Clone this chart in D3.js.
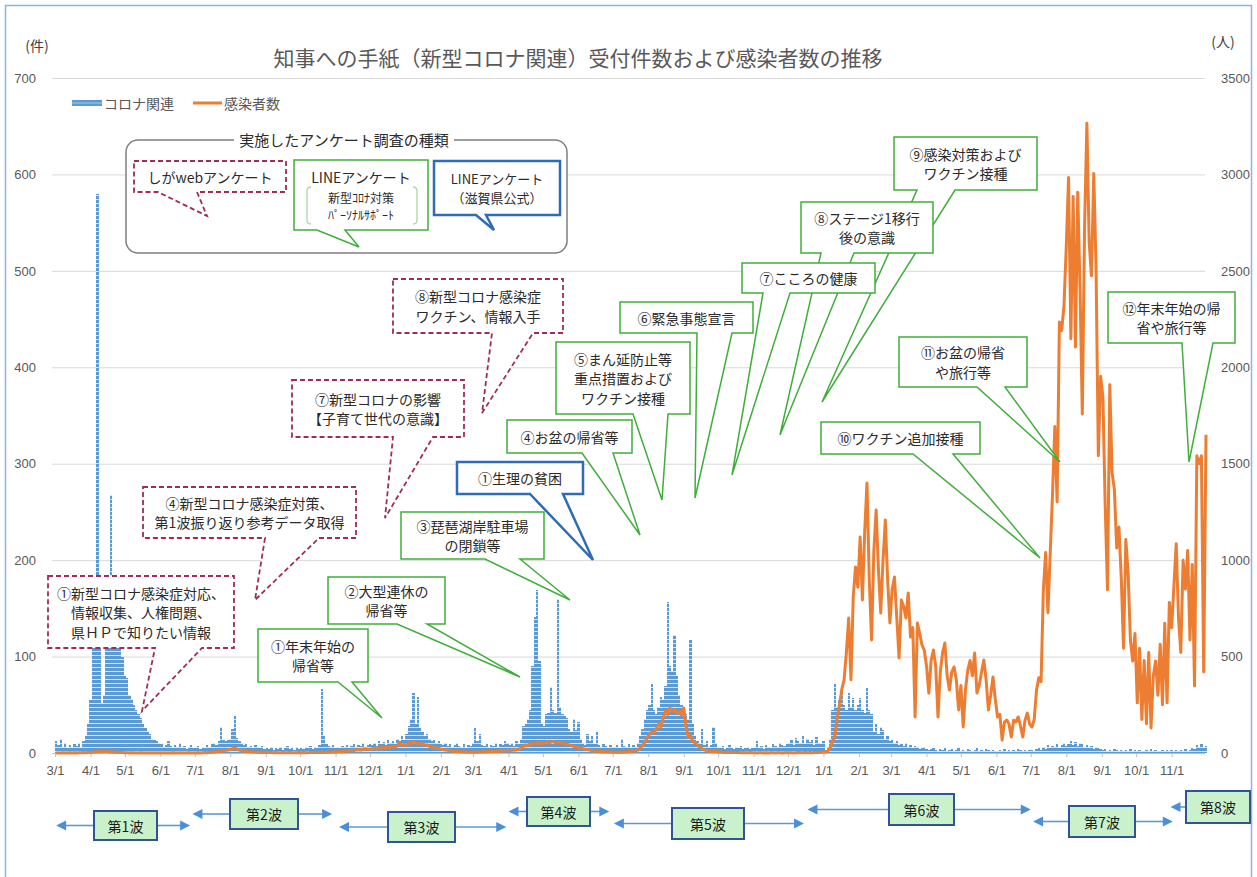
<!DOCTYPE html>
<html>
<head>
<meta charset="utf-8">
<script src="https://cdn.jsdelivr.net/npm/d3@7"></script>
<style>
  body { margin: 0; background: #fff; }
  svg { display: block; font-family: "Noto Sans CJK JP", "Noto Sans", sans-serif; }
</style>
</head>
<body>
<svg id="chart" width="1257" height="877"></svg>
<script>
/* 知事への手紙（新型コロナ関連）受付件数 + 感染者数, one value per 2 days from 2020-03-01 */

const START = new Date(2020, 2, 1);
const END = new Date(2022, 11, 1);
const STEP = 2;

/* ── コロナ関連 (件) ── */
const blue2020 = [
  12, 8, 15, 6, 10, 5, 8, 6, 9, 7, 10, 6, 12, 18, 30, 55,
  130, 150, 580, 160, 52, 60, 140, 150, 268, 150, 130, 120, 112, 100, 80,
  78, 60, 56, 50, 45, 40, 36, 30, 26, 22, 20, 15, 14, 12, 10,
  9, 6, 8, 12, 7, 5, 8, 6, 10, 5, 7, 4, 6, 8, 5,
  5, 7, 4, 6, 5, 8, 6, 9, 10, 8, 12, 27, 14, 12, 13, 15,
  25, 38, 16, 12, 10, 8, 9, 6, 7, 5, 8, 6, 5, 7, 4,
  5, 4, 6, 3, 5, 4, 6, 3, 5, 7, 4, 5, 3, 6, 4,
  5, 4, 6, 5, 7, 4, 6, 5, 8, 66, 18, 9, 7, 6, 8, 5,
  6, 5, 7, 6, 8, 5, 7, 9, 6, 8, 7, 10, 6, 8, 9,
  8, 10, 7, 12, 9, 11, 8, 14, 10, 12, 9, 15, 12, 18, 14
];
const blue2021 = [
  20, 28, 35, 62, 30, 58, 26, 22, 18, 20, 15, 12, 14, 10, 12, 9,
  8, 10, 7, 9, 6, 8, 10, 7, 6, 9, 5, 8, 7, 10,
  26, 12, 20, 8, 7, 9, 6, 8, 7, 10, 6, 9, 8, 12, 10,
  8, 10, 7, 12, 9, 15, 28, 30, 35, 45, 90, 141, 169, 95, 30,
  28, 40, 42, 68, 45, 42, 160, 48, 40, 38, 36, 25, 22, 35, 24, 32,
  15, 10, 8, 20, 12, 18, 9, 22, 8, 6, 9, 7, 5, 8, 6,
  6, 8, 5, 15, 7, 6, 9, 5, 8, 6, 10, 18, 25, 35, 45,
  50, 72, 45, 40, 48, 58, 55, 70, 157, 90, 85, 122, 80, 60, 50, 45,
  40, 35, 117, 30, 18, 12, 10, 25, 8, 12, 6, 8, 27, 10, 6,
  5, 7, 4, 6, 8, 5, 4, 6, 5, 7, 4, 5, 6, 4, 5,
  6, 12, 5, 7, 4, 8, 6, 5, 9, 7, 6, 10, 8, 7, 9,
  10, 14, 8, 16, 12, 10, 18, 9, 15, 11, 13, 8, 17, 10, 9, 12
];
const blue2022 = [
  3, 6, 15, 45, 72, 48, 55, 68, 50, 45, 62, 48, 57, 45, 50,
  57, 45, 42, 67, 45, 40, 22, 30, 20, 27, 24, 15, 18, 12,
  14, 10, 12, 8, 9, 7, 10, 6, 8, 5, 7, 6, 4, 5, 6, 4,
  3, 4, 5, 3, 2, 4, 3, 5, 2, 3, 4, 2, 3, 5, 2,
  3, 2, 4, 3, 2, 3, 5, 2, 3, 2, 4, 3, 2, 3, 2,
  2, 3, 2, 4, 2, 3, 2, 3, 2, 4, 3, 2, 3, 2, 3,
  3, 2, 4, 5, 3, 6, 4, 8, 5, 7, 6, 9, 5, 8, 10, 7,
  9, 12, 8, 11, 7, 10, 9, 6, 8, 5, 7, 4, 6, 5, 4,
  3, 4, 2, 3, 2, 4, 3, 2, 3, 2, 3, 2, 4, 2, 3,
  2, 3, 2, 2, 3, 2, 4, 2, 3, 2, 2, 3, 2, 3, 2, 3,
  2, 3, 2, 3, 2, 4, 2, 3, 5, 4, 8, 6, 9, 5, 7
];

/* ── 感染者数 (人) ── */
const cases2020 = [
  0, 0, 0, 1, 0, 0, 1, 0, 1, 0, 1, 1, 2, 1, 3, 2,
  4, 6, 5, 8, 7, 6, 9, 5, 6, 4, 5, 3, 2, 2, 1,
  1, 0, 1, 0, 0, 0, 1, 0, 0, 0, 0, 0, 0, 0, 0,
  0, 0, 0, 0, 0, 1, 0, 0, 0, 0, 0, 0, 1, 0, 0,
  0, 1, 0, 1, 2, 1, 3, 4, 5, 6, 8, 10, 12, 14, 16, 18,
  22, 26, 20, 15, 12, 10, 8, 7, 6, 5, 4, 5, 3, 4, 3,
  3, 2, 2, 1, 2, 1, 1, 2, 1, 1, 2, 1, 1, 1, 2,
  1, 2, 1, 1, 2, 2, 3, 2, 3, 4, 3, 4, 5, 4, 6, 5,
  6, 8, 7, 10, 9, 12, 14, 12, 16, 18, 15, 20, 22, 18, 20,
  22, 25, 20, 28, 24, 30, 26, 32, 28, 35, 30, 38, 52, 40, 45
];
const cases2021 = [
  40, 55, 48, 60, 52, 50, 45, 48, 40, 42, 35, 30, 32, 26, 24, 20,
  18, 15, 14, 12, 10, 8, 9, 6, 7, 5, 6, 4, 5, 4,
  5, 4, 6, 5, 7, 6, 8, 7, 9, 8, 10, 9, 12, 10, 14,
  12, 15, 14, 18, 20, 25, 35, 42, 40, 48, 45, 52, 50, 55, 48,
  52, 58, 50, 56, 60, 52, 55, 50, 54, 48, 45, 42, 40, 35, 30, 28,
  25, 22, 20, 18, 15, 12, 10, 9, 8, 7, 6, 5, 6, 5, 4,
  4, 3, 5, 4, 6, 5, 8, 7, 10, 12, 15, 25, 40, 55, 80,
  95, 110, 104, 125, 150, 135, 180, 220, 200, 233, 215, 225, 207, 218, 195, 233,
  140, 83, 90, 60, 52, 40, 30, 22, 16, 12, 10, 8, 9, 6, 5,
  5, 4, 3, 4, 3, 2, 3, 2, 2, 1, 2, 1, 1, 2, 1,
  1, 0, 1, 1, 0, 1, 0, 1, 1, 0, 1, 1, 0, 1, 1,
  1, 1, 0, 1, 2, 1, 1, 2, 1, 2, 1, 2, 3, 2, 4, 6
];
const cases2022 = [
  5, 10, 30, 60, 90, 180, 250, 330, 380, 520, 700, 380, 810, 965, 860,
  1120, 793, 1150, 1400, 897, 586, 1050, 1260, 950, 726, 1000, 1208, 900, 674,
  850, 913, 700, 493, 793, 760, 700, 830, 601, 650, 187, 674, 620, 560, 534, 450,
  311, 480, 534, 450, 187, 420, 520, 570, 400, 327, 420, 446, 380, 223, 350,
  135, 330, 430, 480, 400, 519, 311, 350, 420, 482, 380, 223, 300, 394, 280,
  187, 200, 67, 160, 171, 150, 83, 170, 160, 187, 140, 83, 170, 207, 150,
  135, 174, 326, 390, 370, 846, 1040, 727, 1040, 1345, 1693, 1302, 2235, 2190, 2320, 2625,
  2984, 2148, 2886, 2105, 2908, 2409, 1758, 2734, 3266, 2647, 2474, 3005, 2517, 1541, 1953,
  1845, 1280, 846, 1910, 1454, 1367, 1063, 1172, 911, 543, 1107, 933, 586, 477, 620,
  260, 543, 174, 480, 152, 521, 130, 400, 477, 300, 564, 250, 673, 260, 781, 650,
  868, 1085, 700, 521, 1000, 850, 1050, 586, 977, 347, 1541, 1500, 1541, 420, 1650
];

/* ── axis labels ── */
const monthTicks = [
  '3/1', '4/1', '5/1', '6/1', '7/1', '8/1', '9/1', '10/1', '11/1', '12/1',
  '1/1', '2/1', '3/1', '4/1', '5/1', '6/1', '7/1', '8/1', '9/1', '10/1', '11/1', '12/1',
  '1/1', '2/1', '3/1', '4/1', '5/1', '6/1', '7/1', '8/1', '9/1', '10/1', '11/1'
];
const leftTicks = [0, 100, 200, 300, 400, 500, 600, 700];
const rightTicks = [0, 500, 1000, 1500, 2000, 2500, 3000, 3500];

/* ── waves ── */
const waveNames = ['第1波', '第2波', '第3波', '第4波', '第5波', '第6波', '第7波', '第8波'];
const waveFrom = ['2020-03-02', '2020-06-29', '2020-11-04', '2021-04-01', '2021-07-02', '2021-12-18', '2022-07-03', '2022-10-31'];
const waveTo = ['2020-06-27', '2020-10-29', '2021-03-30', '2021-06-28', '2021-12-15', '2022-07-01', '2022-11-02', null];
const waveBox = [[94, 811, 63, 29], [230, 799, 68, 30], [388, 812, 67, 30], [527, 797, 63, 29],
                 [672, 808, 72, 31], [889, 794, 65, 31], [1069, 806, 66, 31], [1186, 791, 64, 32]];

const C_BLUE = '#5b9bd5', C_ORANGE = '#ed7d31', C_TXT = '#595959';
const C_GREEN = '#3fae3a', C_WEB = '#9e2d58', C_LINE = '#2e6db4';

/* ── rows ── */
const blueVals = [...blue2020, ...blue2021, ...blue2022];
const caseVals = [...cases2020, ...cases2021, ...cases2022];
const rows = blueVals.map((b, j) => ({
  d0: d3.timeDay.offset(START, j * STEP),
  d1: d3.timeDay.offset(START, j * STEP + STEP),
  mid: d3.timeDay.offset(START, j * STEP + 1),
  blue: b,
  cases: caseVals[j],
}));

const svg = d3.select('#chart');
const x = d3.scaleTime().domain([START, END]).range([55, 1206]);
const yL = d3.scaleLinear().domain([0, 700]).range([753, 78]);
const yR = d3.scaleLinear().domain([0, 3500]).range([753, 78]);
const parse = d3.timeParse('%Y-%m-%d');

/* ── defs ── */
const defs = svg.append('defs');
const pat = defs.append('pattern').attr('id', 'stripe')
  .attr('patternUnits', 'userSpaceOnUse').attr('width', 4).attr('height', 4);
pat.append('rect').attr('width', 4).attr('height', 4).attr('fill', C_BLUE);
pat.append('rect').attr('y', 3).attr('width', 4).attr('height', 1).attr('fill', '#d4e5f6');

/* outer frame */
svg.append('rect').attr('x', 5.5).attr('y', 5.5).attr('width', 1246).attr('height', 900)
  .attr('fill', '#fff').attr('stroke', '#8db3e2').attr('stroke-width', 1.5);

/* ── grid ── */
svg.append('g').selectAll('line')
  .data(leftTicks.filter(v => v > 0))
  .join('line')
  .attr('x1', 52).attr('x2', 1205)
  .attr('y1', d => yL(d) + 0.5).attr('y2', d => yL(d) + 0.5)
  .attr('stroke', '#d9d9d9');

/* ── axes ── */
const months = d3.timeMonth.range(START, d3.timeDay.offset(END, -1));
const gx = svg.append('g').attr('transform', `translate(0,${yL(0)})`)
  .call(d3.axisBottom(x).tickValues(months).tickFormat((d, i) => monthTicks[i]).tickSize(4).tickPadding(9));
gx.select('.domain').attr('stroke', '#bfbfbf').attr('d', 'M52,0.5H1205');
gx.selectAll('.tick line').attr('stroke', '#bfbfbf');
gx.selectAll('text').attr('fill', C_TXT).attr('font-size', 13).attr('font-family', null);

const gl = svg.append('g').attr('transform', 'translate(40,0)')
  .call(d3.axisLeft(yL).tickValues(leftTicks).tickFormat(d3.format('d')).tickSize(0).tickPadding(4));
const gr = svg.append('g').attr('transform', 'translate(1215,0)')
  .call(d3.axisRight(yR).tickValues(rightTicks).tickFormat(d3.format('d')).tickSize(0).tickPadding(6));
[gl, gr].forEach(g => {
  g.select('.domain').remove();
  g.selectAll('text').attr('fill', C_TXT).attr('font-size', 13).attr('font-family', null);
});

svg.append('text').attr('x', 37).attr('y', 45).attr('text-anchor', 'middle')
  .attr('dominant-baseline', 'central').attr('font-size', 14).attr('fill', '#404040').text('(件)');
svg.append('text').attr('x', 1223).attr('y', 41).attr('text-anchor', 'middle')
  .attr('dominant-baseline', 'central').attr('font-size', 14).attr('fill', '#404040').text('(人)');

/* ── title ── */
svg.append('text').attr('x', 578).attr('y', 57).attr('text-anchor', 'middle')
  .attr('dominant-baseline', 'central').attr('font-size', 21).attr('fill', C_TXT)
  .text('知事への手紙（新型コロナ関連）受付件数および感染者数の推移');

/* ── legend ── */
svg.append('rect').attr('x', 72).attr('y', 100).attr('width', 30).attr('height', 6).attr('fill', C_BLUE);
svg.append('line').attr('x1', 72).attr('x2', 102).attr('y1', 103).attr('y2', 103)
  .attr('stroke', '#a9cbec').attr('stroke-width', 1);
svg.append('text').attr('x', 104).attr('y', 103).attr('dominant-baseline', 'central')
  .attr('font-size', 14).attr('fill', C_TXT).text('コロナ関連');
svg.append('line').attr('x1', 193).attr('x2', 222).attr('y1', 103).attr('y2', 103)
  .attr('stroke', C_ORANGE).attr('stroke-width', 3);
svg.append('text').attr('x', 224).attr('y', 103).attr('dominant-baseline', 'central')
  .attr('font-size', 14).attr('fill', C_TXT).text('感染者数');

/* ── bars ── */
svg.append('g').attr('shape-rendering', 'crispEdges')
  .selectAll('rect').data(rows.filter(d => d.blue > 0)).join('rect')
  .attr('x', d => x(d.d0))
  .attr('width', d => x(d.d1) - x(d.d0))
  .attr('y', d => yL(d.blue))
  .attr('height', d => yL(0) - yL(d.blue))
  .attr('fill', 'url(#stripe)');

/* ── line ── */
svg.append('path').datum(rows)
  .attr('d', d3.line().x(d => x(d.mid)).y(d => yR(d.cases)))
  .attr('fill', 'none').attr('stroke', C_ORANGE)
  .attr('stroke-width', 3).attr('stroke-linejoin', 'round');

/* ── callouts ── */
function callout(g, c) {
  const b = c.y + c.h;
  const [b1, tip, b2] = c.tail;
  const d = `M${c.x},${c.y}H${c.x + c.w}V${b}H${b2}L${tip[0]},${tip[1]}L${b1},${b}H${c.x}Z`;
  const st = c.kind === 'web' ? { s: C_WEB, w: 1.8, dash: '5,3' }
           : c.kind === 'line' ? { s: C_LINE, w: 2.5, dash: null }
           : { s: C_GREEN, w: 1.5, dash: null };
  g.append('path').attr('d', d).attr('fill', '#fff')
    .attr('stroke', st.s).attr('stroke-width', st.w).attr('stroke-dasharray', st.dash)
    .attr('stroke-linejoin', 'miter');
  const lh = c.lh || 19.5;
  const cx = c.x + c.w / 2, cy = c.y + c.h / 2;
  c.lines.forEach((t, i) => {
    g.append('text').attr('x', cx).attr('y', cy + (i - (c.lines.length - 1) / 2) * lh)
      .attr('text-anchor', 'middle').attr('dominant-baseline', 'central')
      .attr('font-size', c.fs || 14).attr('fill', '#2b2b2b').text(t);
  });
}

const callouts = [
  { kind: 'green', x: 894, y: 137, w: 143, h: 53, tail: [917, [822, 402], 955], lines: ['⑨感染対策および', 'ワクチン接種'] },
  { kind: 'green', x: 801, y: 202, w: 132, h: 51, tail: [821, [780, 435], 854], lines: ['⑧ステージ1移行', '後の意識'] },
  { kind: 'green', x: 742, y: 263, w: 133, h: 30, tail: [763, [732, 475], 790], lines: ['⑦こころの健康'] },
  { kind: 'green', x: 620, y: 302, w: 133, h: 31, tail: [697, [695, 498], 732], lines: ['⑥緊急事態宣言'] },
  { kind: 'green', x: 556, y: 342, w: 134, h: 72, tail: [633, [662, 500], 668], lines: ['⑤まん延防止等', '重点措置および', 'ワクチン接種'] },
  { kind: 'green', x: 507, y: 420, w: 125, h: 33, tail: [582, [640, 535], 613], lines: ['④お盆の帰省等'] },
  { kind: 'line',  x: 457, y: 462, w: 126, h: 32, tail: [530, [593, 560], 563], lines: ['①生理の貧困'] },
  { kind: 'green', x: 401, y: 512, w: 143, h: 47, tail: [485, [570, 600], 520], lines: ['③琵琶湖岸駐車場', 'の閉鎖等'] },
  { kind: 'green', x: 328, y: 577, w: 117, h: 47, tail: [397, [520, 677], 427], lines: ['②大型連休の', '帰省等'] },
  { kind: 'green', x: 258, y: 629, w: 110, h: 53, tail: [338, [382, 718], 352], lines: ['①年末年始の', '帰省等'] },
  { kind: 'green', x: 821, y: 422, w: 159, h: 32, tail: [913, [1040, 558], 953], lines: ['⑩ワクチン追加接種'] },
  { kind: 'green', x: 899, y: 337, w: 128, h: 50, tail: [977, [1060, 462], 1005], lines: ['⑪お盆の帰省', 'や旅行等'] },
  { kind: 'green', x: 1108, y: 292, w: 127, h: 51, tail: [1182, [1189, 462], 1213], lines: ['⑫年末年始の帰', '省や旅行等'] },
  { kind: 'web', x: 393, y: 279, w: 170, h: 54, tail: [492, [482, 413], 533], lines: ['⑧新型コロナ感染症', 'ワクチン、情報入手'] },
  { kind: 'web', x: 292, y: 380, w: 172, h: 57, tail: [393, [385, 518], 433], lines: ['⑦新型コロナの影響', '【子育て世代の意識】'] },
  { kind: 'web', x: 143, y: 487, w: 213, h: 51, tail: [265, [255, 600], 319], lines: ['④新型コロナ感染症対策、', '第1波振り返り参考データ取得'] },
  { kind: 'web', x: 48, y: 576, w: 186, h: 72, tail: [155, [142, 711], 202], lines: ['①新型コロナ感染症対応、', '情報収集、人権問題、', '県ＨＰで知りたい情報'] },
];
const gc = svg.append('g');
callouts.forEach(c => callout(gc, c));

/* ── survey type key ── */
const gk = svg.append('g');
gk.append('rect').attr('x', 126).attr('y', 140).attr('width', 441).attr('height', 113).attr('rx', 12)
  .attr('fill', '#fff').attr('stroke', '#7f7f7f').attr('stroke-width', 1.5);
gk.append('rect').attr('x', 234).attr('y', 130).attr('width', 220).attr('height', 20).attr('fill', '#fff');
gk.append('text').attr('x', 344).attr('y', 139).attr('text-anchor', 'middle').attr('dominant-baseline', 'central')
  .attr('font-size', 15).attr('fill', '#2b2b2b').text('実施したアンケート調査の種類');
callout(gk, { kind: 'web', x: 134, y: 161, w: 152, h: 31, tail: [158, [207, 216], 197], lines: ['しがwebアンケート'] });
callout(gk, { kind: 'green', x: 294, y: 160, w: 134, h: 70, tail: [317, [359, 247], 345], lines: [] });
gk.append('text').attr('x', 361).attr('y', 177).attr('text-anchor', 'middle').attr('dominant-baseline', 'central')
  .attr('font-size', 14).attr('fill', '#2b2b2b').text('LINEアンケート');
gk.append('text').attr('x', 361).attr('y', 197).attr('text-anchor', 'middle').attr('dominant-baseline', 'central')
  .attr('font-size', 12).attr('fill', '#2b2b2b').text('新型ｺﾛﾅ対策');
gk.append('text').attr('x', 361).attr('y', 214).attr('text-anchor', 'middle').attr('dominant-baseline', 'central')
  .attr('font-size', 12).attr('fill', '#2b2b2b').text('ﾊﾟｰｿﾅﾙｻﾎﾟｰﾄ');
gk.append('path').attr('d', 'M311,187 Q307,187 307,191 V220 Q307,224 311,224')
  .attr('fill', 'none').attr('stroke', '#a9d9a6').attr('stroke-width', 1.3);
gk.append('path').attr('d', 'M413,187 Q417,187 417,191 V220 Q417,224 413,224')
  .attr('fill', 'none').attr('stroke', '#a9d9a6').attr('stroke-width', 1.3);
callout(gk, { kind: 'line', x: 434, y: 161, w: 126, h: 54, tail: [476, [494, 230], 486], lines: ['LINEアンケート', '（滋賀県公式）'], lh: 19, fs: 13 });

/* ── wave labels ── */
const gw = svg.append('g');
function arrow(x1, x2, y) {
  const dir = Math.sign(x2 - x1);
  gw.append('line').attr('x1', x1).attr('x2', x2 - dir * 8).attr('y1', y).attr('y2', y)
    .attr('stroke', C_BLUE).attr('stroke-width', 1.6);
  gw.append('path')
    .attr('d', `M${x2},${y}L${x2 - dir * 10},${y - 5}L${x2 - dir * 10},${y + 5}Z`)
    .attr('fill', '#4a8fd8');
}
waveNames.forEach((name, i) => {
  const [bx, by, bw, bh] = waveBox[i];
  const cy = by + bh / 2;
  arrow(bx, x(parse(waveFrom[i])), cy);
  if (waveTo[i]) arrow(bx + bw, x(parse(waveTo[i])), cy);
  gw.append('rect').attr('x', bx).attr('y', by).attr('width', bw).attr('height', bh)
    .attr('fill', '#c9f2cc').attr('stroke', '#2f5597').attr('stroke-width', 2);
  gw.append('text').attr('x', bx + bw / 2).attr('y', cy).attr('text-anchor', 'middle')
    .attr('dominant-baseline', 'central').attr('font-size', 14).attr('fill', '#1a1a1a').text(name);
});
</script>
</body>
</html>
